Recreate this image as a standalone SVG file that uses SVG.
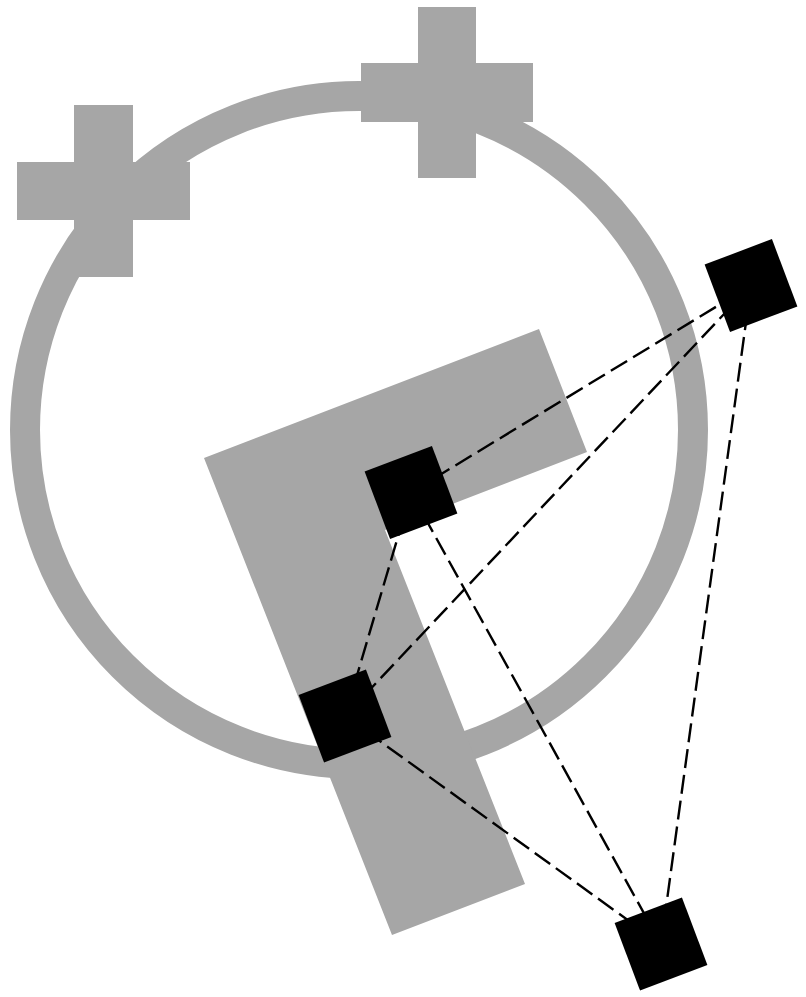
<svg xmlns="http://www.w3.org/2000/svg" width="806" height="997" viewBox="0 0 806 997">
<style>
.g{fill:#a6a6a6}
.ring{fill:none;stroke:#a6a6a6;stroke-width:30}
.sq{fill:#000}
.c{stroke:#000;stroke-width:2.4;stroke-dasharray:19 7;fill:none}
</style>
<rect width="806" height="997" fill="#fff"/>
<g id="ring"><circle class="ring" cx="359" cy="430" r="334"/></g>
<g id="cross-left" class="g">
<rect x="74" y="105" width="59" height="172"/>
<rect x="17" y="162" width="173" height="58"/>
</g>
<g id="cross-right" class="g">
<rect x="418" y="7" width="58" height="171"/>
<rect x="361" y="63" width="172" height="59"/>
</g>
<g id="l-shape"><polygon class="g" points="204,458 539,329 587,452 385,530 525,884 392,935"/></g>
<g id="connectors">
<line class="c" x1="411" y1="492.5" x2="751" y2="285.5"/>
<line class="c" x1="345" y1="716" x2="751" y2="285.5"/>
<line class="c" x1="411" y1="492.5" x2="345" y2="716"/>
<line class="c" x1="411" y1="492.5" x2="661" y2="944"/>
<line class="c" x1="345" y1="716" x2="661" y2="944"/>
<line class="c" x1="751" y1="285.5" x2="661" y2="944"/>
</g>
<g id="node-1"><rect class="sq" x="-36" y="-36" width="72" height="72" transform="translate(411 492.5) rotate(-20.7)"/></g>
<g id="node-2"><rect class="sq" x="-36" y="-36" width="72" height="72" transform="translate(345 716) rotate(-20.7)"/></g>
<g id="node-3"><rect class="sq" x="-36" y="-36" width="72" height="72" transform="translate(751 285.5) rotate(-20.7)"/></g>
<g id="node-4"><rect class="sq" x="-36" y="-36" width="72" height="72" transform="translate(661 944) rotate(-20.7)"/></g>
</svg>
